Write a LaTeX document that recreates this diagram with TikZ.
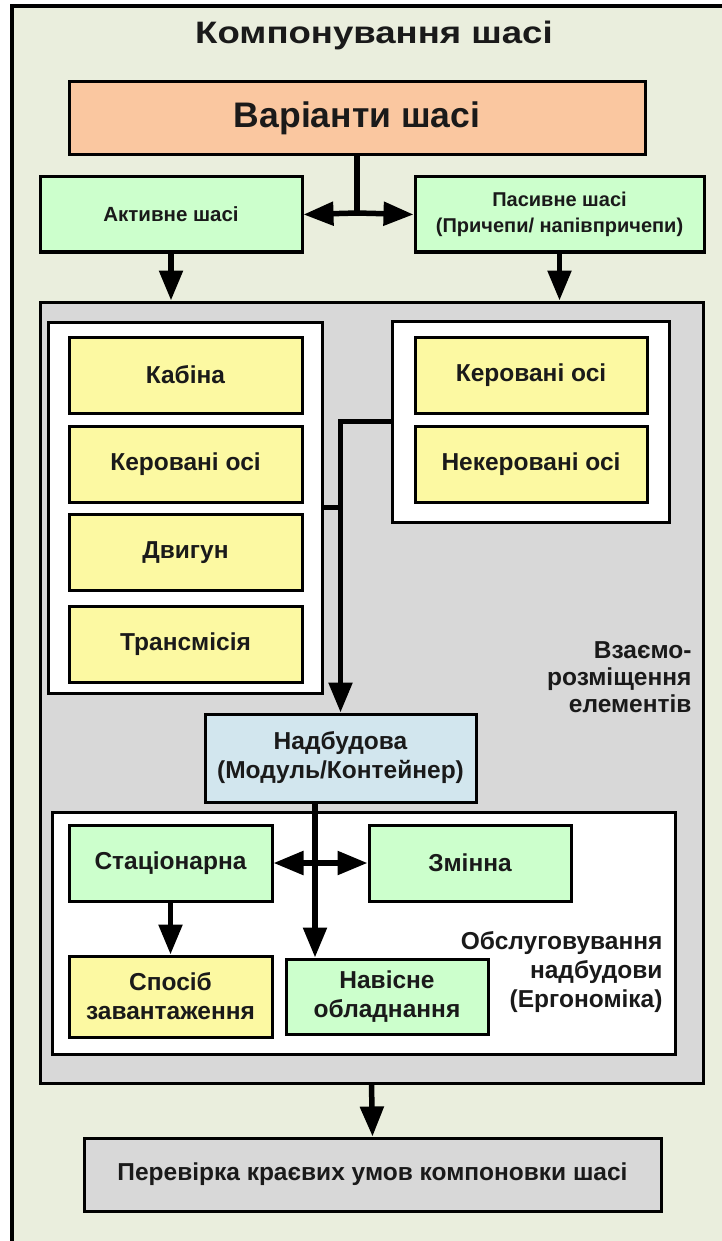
\documentclass[tikz,border=0pt]{standalone}
\usepackage{fontspec}
\setmainfont{Liberation Sans}
\newfontfamily\widefont{Liberation Sans}[FakeStretch=1.18]
\usetikzlibrary{arrows.meta}

\definecolor{paper}{RGB}{234,238,221}
\definecolor{orangefill}{RGB}{250,199,160}
\definecolor{greenfill}{RGB}{204,255,204}
\definecolor{yellowfill}{RGB}{252,249,162}
\definecolor{grayfill}{RGB}{216,216,216}
\definecolor{bluefill}{RGB}{210,230,238}
\definecolor{ink}{RGB}{26,26,26}

\tikzset{
  every node/.style={font=\bfseries, text=ink},
  box/.style={draw=black, line width=3pt, align=center, inner sep=0pt},
  panel/.style={draw=black, line width=3pt, fill=white, inner sep=0pt},
  txt/.style={font=\fontsize{24.5}{29}\selectfont\bfseries},
  link/.style={draw=black, line width=5.5pt},
  arr/.style={link, -{Triangle[length=30pt,width=23pt]}}
}

\begin{document}
\begin{tikzpicture}[x=1pt, y=-1pt]
  \useasboundingbox (0,0) rectangle (722,1241);
  % sheet background and frame
  \fill[paper] (12,6) rectangle (722,1241);
  \draw[line width=4pt] (12,1241) -- (12,6) -- (722,6);

  % title
  \node[font=\widefont\fontsize{31}{36}\selectfont\bfseries] (title) at (374,35) {Компонування шасі};

  % chassis variants
  \node[box, fill=orangefill, minimum width=576pt, minimum height=73pt,
        font=\fontsize{35.5}{42}\selectfont\bfseries] (var) at (357,118.5) {Варіанти шасі};
  \node[box, fill=greenfill, minimum width=262pt, minimum height=75pt,
        font=\fontsize{20.5}{26}\selectfont\bfseries] (act) at (171,214.5) {Активне шасі};
  \node[box, fill=greenfill, minimum width=289pt, minimum height=75pt,
        font=\fontsize{20}{26}\selectfont\bfseries] (pas) at (559.5,214.5) {Пасивне шасі\\(Причепи/ напівпричепи)};
  \coordinate (jn) at (357,213);

  % layout area
  \node[box, fill=grayfill, minimum width=663pt, minimum height=781pt] (area) at (371.5,692.5) {};
  \node[panel, minimum width=274pt, minimum height=371pt] (lp) at (185,507.5) {};
  \node[panel, minimum width=277pt, minimum height=201pt] (rp) at (530.5,421.5) {};

  \node[box, txt, fill=yellowfill, minimum width=233pt, minimum height=76pt] (kab) at (185.5,375) {Кабіна};
  \node[box, txt, fill=yellowfill, minimum width=233pt, minimum height=76pt] (ko1) at (185.5,464) {Керовані осі};
  \node[box, txt, fill=yellowfill, minimum width=233pt, minimum height=76pt] (dv) at (185.5,552.5) {Двигун};
  \node[box, txt, fill=yellowfill, minimum width=233pt, minimum height=76pt] (tr) at (185.5,644.5) {Трансмісія};

  \node[box, txt, fill=yellowfill, minimum width=232pt, minimum height=76pt] (ko2) at (531,375) {Керовані осі};
  \node[box, txt, fill=yellowfill, minimum width=232pt, minimum height=76pt] (nko) at (531,464) {Некеровані осі};

  \node[font=\fontsize{24.5}{27}\selectfont\bfseries, align=right, anchor=east] (lbl1) at (695,677) {Взаємо-\\розміщення\\елементів};

  % body
  \node[box, txt, fill=bluefill, minimum width=271pt, minimum height=88pt] (nad) at (340.5,758) {Надбудова\\(Модуль/Контейнер)};

  \node[panel, minimum width=623pt, minimum height=242pt] (bp) at (363.5,933) {};
  \node[box, txt, fill=greenfill, minimum width=203pt, minimum height=76pt] (stat) at (170.5,863) {Стаціонарна};
  \node[box, txt, fill=greenfill, minimum width=202pt, minimum height=76pt] (zmin) at (470,863) {Змінна};
  \node[box, txt, fill=yellowfill, minimum width=203pt, minimum height=81pt] (spos) at (170.5,996.5) {Спосіб\\завантаження};
  \node[box, txt, fill=greenfill, minimum width=202pt, minimum height=75pt] (nav) at (387,996.5) {Навісне\\обладнання};
  \node[txt, align=right, anchor=east] (lbl2) at (666,972) {Обслуговування\\надбудови\\(Ергономіка)};
  \coordinate (drop) at (315,0);

  % final check
  \node[box, txt, fill=grayfill, minimum width=577pt, minimum height=73pt] (chk) at (372.5,1174.5) {Перевірка краєвих умов компоновки шасі};

  % connectors
  \draw[link] (var.south) -- (jn);
  \draw[arr] (jn) -- (act.east);
  \draw[arr] (jn) -- (pas.west);
  \draw[arr] (act.south) -- (act.south |- area.north);
  \draw[arr] (pas.south) -- (pas.south |- area.north);

  \draw[link] (lp.east) -- (lp.east -| nad.north);
  \draw[arr] (rp.west) -| (nad.north);

  \draw[arr] (nad.south -| drop) -- (nav.north -| drop);
  \draw[arr] (stat.east -| drop) -- (stat.east);
  \draw[arr] (stat.east -| drop) -- (zmin.west);
  \draw[arr] (stat.south) -- (spos.north);

  \draw[arr] (area.south) -- (chk.north);
\end{tikzpicture}
\end{document}
